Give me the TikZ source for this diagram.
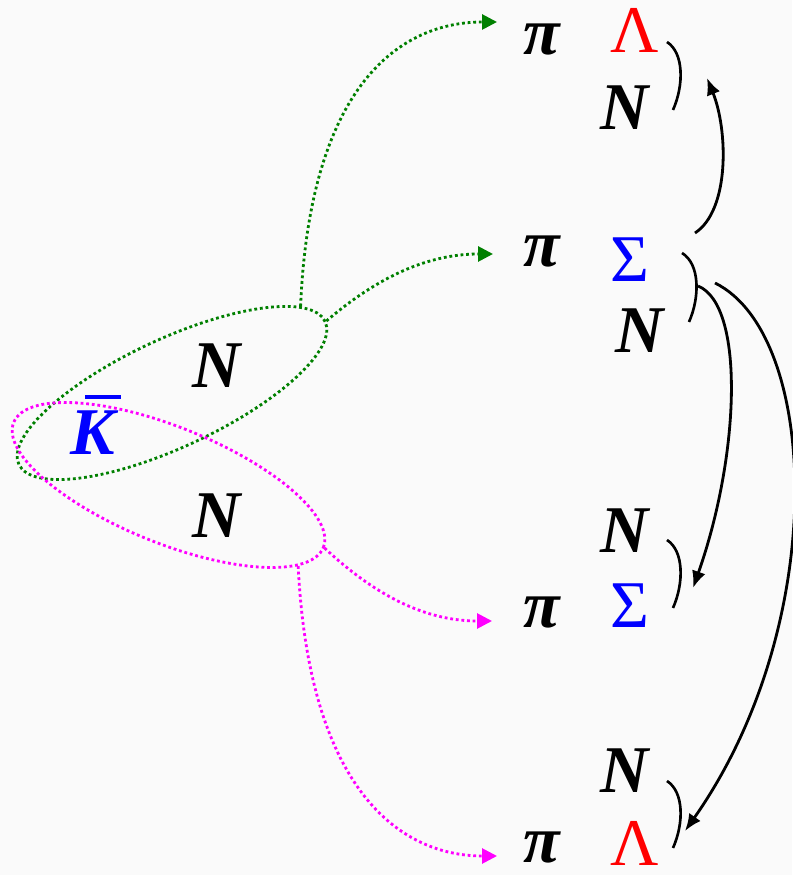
\documentclass[tikz,border=0pt]{standalone}
\usepackage{fontspec}
\setmainfont{Liberation Serif}
\usetikzlibrary{arrows.meta,shapes.geometric}
\definecolor{lila}{RGB}{255,0,255}
\definecolor{verde}{RGB}{0,128,0}

\begin{document}
\begin{tikzpicture}[x=0.02cm, y=0.02cm,
  part/.style={font=\fontsize{38}{40}\selectfont\bfseries\itshape, inner sep=0pt, anchor=base},
  hyp/.style={font=\fontsize{38}{40}\selectfont, inner sep=0pt, anchor=base},
  lazo/.style={draw, ellipse, line width=1.6pt, dash pattern=on 1.6pt off 1.6pt, minimum width=6.76cm, minimum height=2.16cm, inner sep=0pt},
  canal/.style={line width=1.6pt, dash pattern=on 1.6pt off 1.6pt, -{Triangle[length=3mm,width=3mm]}},
  corchete/.style={line width=1.5pt},
  salto/.style={line width=1.6pt, -{Latex[length=3.4mm,width=2.8mm]}}]
\useasboundingbox (0,0) rectangle (792,875);
\fill[black!2] (0,0) rectangle (792,875);
% initial state
\node[lazo, draw=verde, rotate=25] (gKN) at (172,482) {};
\node[lazo, draw=lila, rotate=-22, minimum width=6.68cm, minimum height=2.32cm] (mKN) at (168.5,390) {};
\node[part] (nA) at (217,487) {N};
\node[part, text=blue] (kbar) at (93,420) {\rlap{\hspace{0.22em}\rule[0.845em]{0.54em}{0.05em}}K};
\node[part] (nB) at (217,337) {N};
% final states
\node[part] (piA) at (542,820) {π};
\node[hyp, text=red] (lamA) at (635,822) {Λ};
\node[part] (nA1) at (625,745) {N};
\node[part] (piB) at (542,608) {π};
\node[hyp, text=blue] (sigB) at (630,593) {Σ};
\node[part] (nB1) at (640,522) {N};
\node[part] (nC1) at (625,322) {N};
\node[part] (piC) at (542,247) {π};
\node[hyp, text=blue] (sigC) at (630,247) {Σ};
\node[part] (nD1) at (625,82) {N};
\node[part] (piD) at (542,12) {π};
\node[hyp, text=red] (lamD) at (635,10) {Λ};
% channels
\coordinate (fA) at (497,853);
\coordinate (fB) at (493,621);
\coordinate (fC) at (492,254);
\coordinate (fD) at (497,19);
\draw[canal, verde] (gKN.9) .. controls (310,790) and (400,853) .. (fA);
\draw[canal, verde] (gKN.0) .. controls (380,600) and (430,621) .. (fB);
\draw[canal, lila] (mKN.0) .. controls (380,275) and (430,254) .. (fC);
\draw[canal, lila] (mKN.-10) .. controls (309,85) and (400,19) .. (fD);
% brackets
\coordinate (b1a) at (667,833); \coordinate (b1b) at (673,765);
\coordinate (b2a) at (682,622); \coordinate (b2b) at (689,553);
\coordinate (b3a) at (667,335); \coordinate (b3b) at (673,267);
\coordinate (b4a) at (667,94);  \coordinate (b4b) at (673,27);
\draw[corchete] (b1a) .. controls (684,822) and (684,790) .. (b1b);
\draw[corchete] (b2a) .. controls (700,611) and (700,578) .. (b2b);
\draw[corchete] (b3a) .. controls (684,324) and (684,292) .. (b3b);
\draw[corchete] (b4a) .. controls (684,83) and (684,52) .. (b4b);
% transitions
\coordinate (sA) at (695,642); \coordinate (eA) at (707,797);
\coordinate (sB) at (698,589); \coordinate (eB) at (693,287);
\coordinate (sC) at (715,592); \coordinate (eC) at (685,44);
\draw[salto] (sA) .. controls (730,665) and (728,745) .. (eA);
\draw[salto] (sB) .. controls (745,570) and (740,420) .. (eB);
\draw[salto] (sC) .. controls (820,540) and (830,250) .. (eC);
\end{tikzpicture}
\end{document}
